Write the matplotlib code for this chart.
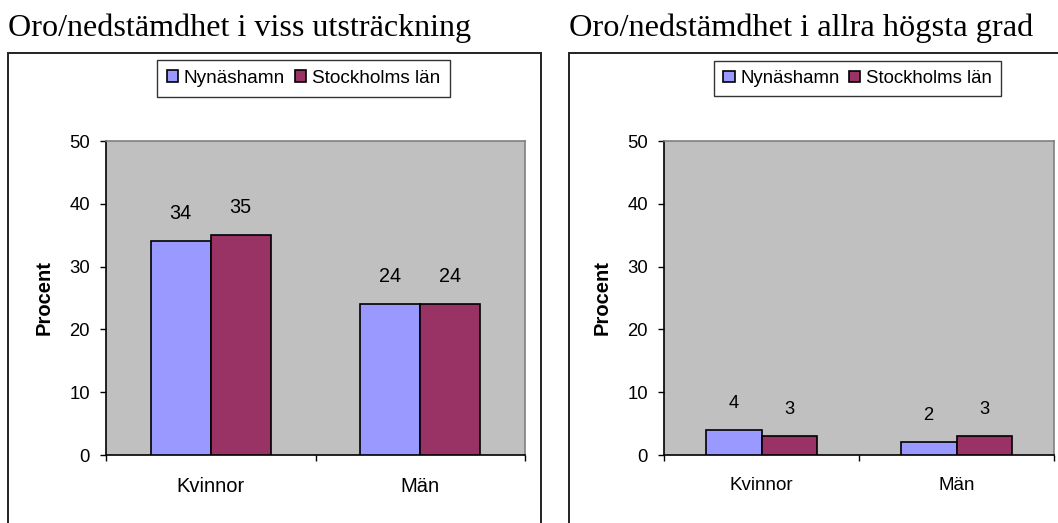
import matplotlib.pyplot as plt
from matplotlib.patches import Rectangle

# Survey results, percent
categories = ["Kvinnor", "Män"]
series = ["Nynäshamn", "Stockholms län"]
some_degree = {"Nynäshamn": [34, 24], "Stockholms län": [35, 24]}
highest_degree = {"Nynäshamn": [4, 2], "Stockholms län": [3, 3]}
titles = ["Oro/nedstämdhet i viss utsträckning",
          "Oro/nedstämdhet i allra högsta grad"]
yticks = [0, 10, 20, 30, 40, 50]

colors = {"Nynäshamn": "#9999FF", "Stockholms län": "#993366"}

plt.rcParams['font.family'] = ['Liberation Sans', 'DejaVu Sans']

W, H = 1058, 523
fig = plt.figure(figsize=(W / 100, H / 100), dpi=100)


def px_axes(x0, y0, x1, y1):
    # axes from pixel box (top-left origin)
    return fig.add_axes([x0 / W, 1 - y1 / H, (x1 - x0) / W, (y1 - y0) / H])


def draw_panel(ax, data, fs):
    width = 1 / 3.5
    x = range(len(categories))
    for i, s in enumerate(series):
        pos = [xi + (i - 0.5) * width for xi in x]
        bars = ax.bar(pos, data[s], width=width, color=colors[s],
                      edgecolor="black", linewidth=1.2, label=s, zorder=3)
        for b, v in zip(bars, data[s]):
            ax.annotate(str(v), (b.get_x() + b.get_width() / 2, v),
                        xytext=(0, 13), textcoords="offset points",
                        ha="center", va="bottom", fontsize=fs - 0.3)
    ax.set_xlim(-0.5, len(categories) - 0.5)
    ax.set_ylim(0, 50)
    ax.set_yticks(yticks)
    ax.tick_params(axis="y", length=4.5, width=1, pad=7, labelsize=13.3)
    ax.set_xticks([-0.5, 0.5, 1.5])
    ax.set_xticklabels([])
    ax.set_xticks(list(x), minor=True)
    ax.set_xticklabels(categories, minor=True)
    ax.tick_params(axis="x", which="major", length=4.5, width=1, direction="out")
    ax.tick_params(axis="x", which="minor", length=0, pad=16, labelsize=fs)
    ax.set_facecolor("#C0C0C0")
    for side in ("top", "right"):
        ax.spines[side].set_color("#808080")
        ax.spines[side].set_linewidth(1.2)
    for side in ("left", "bottom"):
        ax.spines[side].set_color("black")
        ax.spines[side].set_linewidth(1.2)
    ax.set_ylabel("Procent", fontsize=14.5, fontweight="bold", labelpad=11)
    return ax


ax1 = px_axes(106, 141, 525, 455)
draw_panel(ax1, some_degree, 14.5)
ax2 = px_axes(664, 141, 1054, 455)
draw_panel(ax2, highest_degree, 13.5)

# outer chart frames (run off the bottom/right edge)
for x0, x1 in ((8, 541), (569, 1080)):
    fig.add_artist(Rectangle((x0 / W, -0.1), (x1 - x0) / W, 1.1 - 53 / H,
                             transform=fig.transFigure, fill=False,
                             edgecolor="#222222", linewidth=1.4, clip_on=False))

# panel titles
fig.text(8 / W, 1 - 36 / H, titles[0], fontsize=23.1,
         family=['Liberation Serif'], ha="left", va="baseline")
fig.text(569 / W, 1 - 36 / H, titles[1], fontsize=23.3,
         family=['Liberation Serif'], ha="left", va="baseline")

# legends
for ax, cx, fs in ((ax1, 303.5, 13.7), (ax2, 857.5, 13.4)):
    h, l = ax.get_legend_handles_labels()
    leg = fig.legend(h, l, loc="center", bbox_to_anchor=(cx / W, 1 - 78.5 / H),
                     ncol=2, fontsize=fs, frameon=True, fancybox=False,
                     edgecolor="black", handlelength=0.6, handleheight=0.6,
                     handletextpad=0.3, columnspacing=0.5, borderpad=0.5)
    leg.get_frame().set_linewidth(1.0)

fig.savefig("out.png", dpi=100)
